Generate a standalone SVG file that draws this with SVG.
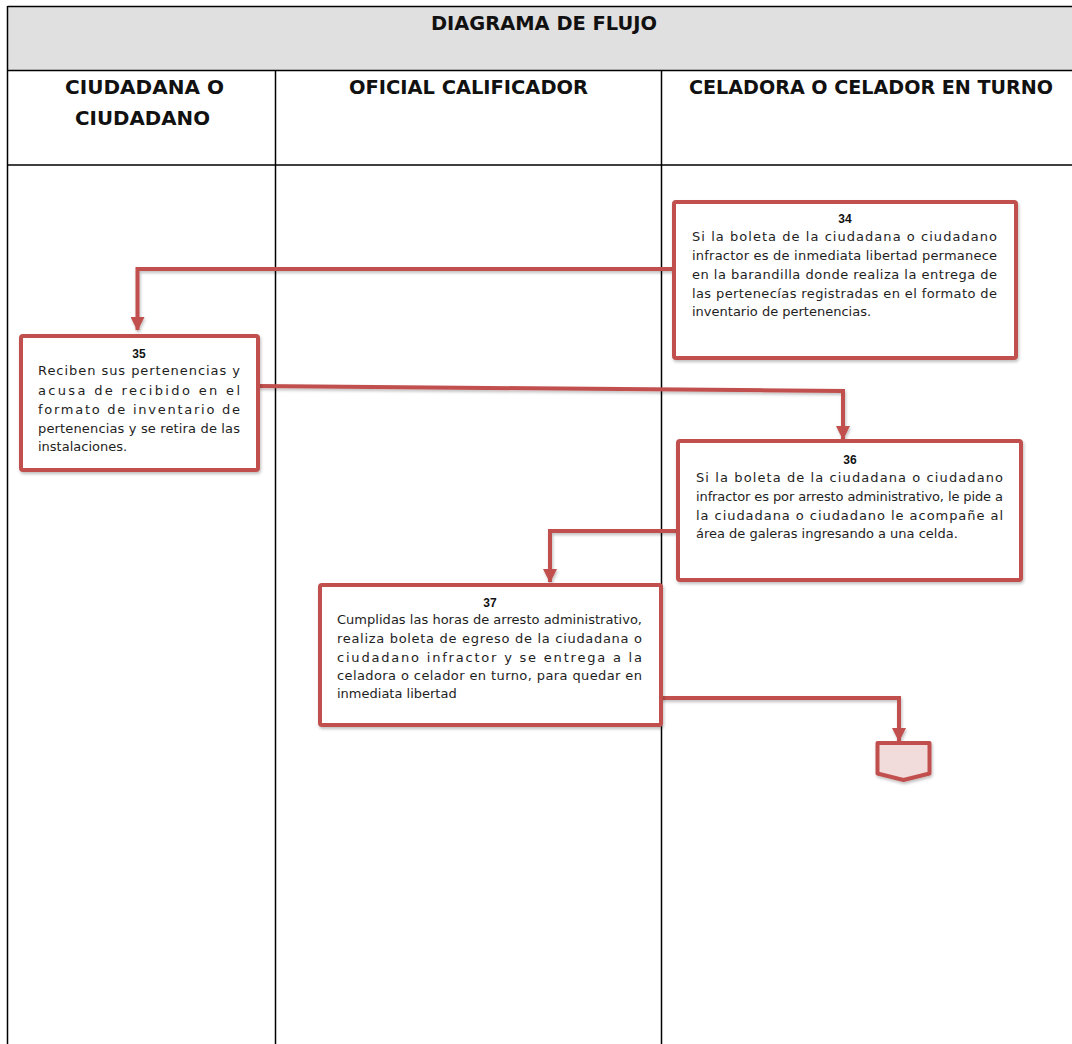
<svg xmlns="http://www.w3.org/2000/svg" width="1072" height="1044" viewBox="0 0 1072 1044">
<defs>
<style>
.grid{stroke:#000;stroke-width:1.5;fill:none}
.hdr{font-family:"DejaVu Sans","Liberation Sans",sans-serif;font-weight:bold;font-size:20px;fill:#111;text-anchor:middle}
.box{fill:#fff;stroke:#c0504d;stroke-width:4}
.num{font-family:"Liberation Sans",Arial,sans-serif;font-weight:bold;font-size:12px;fill:#111;text-anchor:middle}
.txt{font-family:"DejaVu Sans","Liberation Sans",sans-serif;font-size:13px;fill:#1e1e1e}
.con{fill:none;stroke:#c0504d;stroke-width:4;marker-end:url(#arr)}
</style>
<marker id="arr" markerUnits="userSpaceOnUse" markerWidth="14" markerHeight="14" refX="13" refY="7" orient="auto">
<path d="M0,0 L14,7 L0,14 z" fill="#c0504d"/>
</marker>
<filter id="sh" x="-10%" y="-10%" width="120%" height="130%">
<feDropShadow dx="1" dy="2" stdDeviation="1.5" flood-color="#000" flood-opacity="0.25"/>
</filter>
</defs>
<rect width="1072" height="1044" fill="#fff"/>
<g id="table">
<rect x="7.5" y="6.5" width="1070" height="64" fill="#e0e0e0"/>
<line class="grid" x1="7.5" y1="6.5" x2="1072" y2="6.5"/>
<line class="grid" x1="7.5" y1="70.5" x2="1072" y2="70.5"/>
<line class="grid" x1="7.5" y1="165" x2="1072" y2="165"/>
<line class="grid" x1="7.5" y1="6" x2="7.5" y2="1044"/>
<line class="grid" x1="275.5" y1="70.5" x2="275.5" y2="1044"/>
<line class="grid" x1="661.5" y1="70.5" x2="661.5" y2="1044"/>
<text class="hdr" x="544" y="30" textLength="226" lengthAdjust="spacingAndGlyphs">DIAGRAMA DE FLUJO</text>
<text class="hdr" x="144.5" y="94" textLength="159" lengthAdjust="spacingAndGlyphs">CIUDADANA O</text>
<text class="hdr" x="142.5" y="125" textLength="135" lengthAdjust="spacingAndGlyphs">CIUDADANO</text>
<text class="hdr" x="468.5" y="94" textLength="239" lengthAdjust="spacingAndGlyphs">OFICIAL CALIFICADOR</text>
<text class="hdr" x="871" y="94" textLength="364" lengthAdjust="spacingAndGlyphs">CELADORA O CELADOR EN TURNO</text>
</g>
<g id="connectors" filter="url(#sh)">
<path class="con" d="M674,269 H137.5 V330"/>
<path class="con" d="M259,386 L843,391 V439"/>
<path class="con" d="M678,531 H550 V582"/>
<path class="con" d="M661,698 H899 V741"/>
</g>
<g id="n34">
<rect class="box" x="674" y="202" width="342" height="156" rx="2" filter="url(#sh)"/>
<text class="num" x="845" y="223">34</text>
<text class="txt" x="692" y="241" textLength="305">Si la boleta de la ciudadana o ciudadano</text>
<text class="txt" x="692" y="260" textLength="305">infractor es de inmediata libertad permanece</text>
<text class="txt" x="692" y="279" textLength="305">en la barandilla donde realiza la entrega de</text>
<text class="txt" x="692" y="298" textLength="305">las pertenecías registradas en el formato de</text>
<text class="txt" x="692" y="316">inventario de pertenencias.</text>
</g>
<g id="n35">
<rect class="box" x="21" y="336" width="237" height="134" rx="2" filter="url(#sh)"/>
<text class="num" x="139" y="358">35</text>
<text class="txt" x="38" y="375" textLength="202">Reciben sus pertenencias y</text>
<text class="txt" x="38" y="395" textLength="202">acusa de recibido en el</text>
<text class="txt" x="38" y="414" textLength="202">formato de inventario de</text>
<text class="txt" x="38" y="433" textLength="202">pertenencias y se retira de las</text>
<text class="txt" x="38" y="451">instalaciones.</text>
</g>
<g id="n36">
<rect class="box" x="678" y="441" width="343" height="139" rx="2" filter="url(#sh)"/>
<text class="num" x="850" y="464">36</text>
<text class="txt" x="696" y="482" textLength="307">Si la boleta de la ciudadana o ciudadano</text>
<text class="txt" x="696" y="501" textLength="307">infractor es por arresto administrativo, le pide a</text>
<text class="txt" x="696" y="520" textLength="307">la ciudadana o ciudadano le acompañe al</text>
<text class="txt" x="696" y="538">área de galeras ingresando a una celda.</text>
</g>
<g id="n37">
<rect class="box" x="320" y="585" width="341" height="140" rx="2" filter="url(#sh)"/>
<text class="num" x="490" y="607">37</text>
<text class="txt" x="337" y="624" textLength="305">Cumplidas las horas de arresto administrativo,</text>
<text class="txt" x="337" y="643" textLength="305">realiza boleta de egreso de la ciudadana o</text>
<text class="txt" x="337" y="662" textLength="305">ciudadano infractor y se entrega a la</text>
<text class="txt" x="337" y="680" textLength="305">celadora o celador en turno, para quedar en</text>
<text class="txt" x="337" y="698">inmediata libertad</text>
</g>
<g id="end">
<polygon points="877.5,743 929.5,743 929.5,773.5 903.5,780 877.5,773.5" fill="#f2dcdb" stroke="#c0504d" stroke-width="4" stroke-linejoin="round" filter="url(#sh)"/>
</g>
</svg>
